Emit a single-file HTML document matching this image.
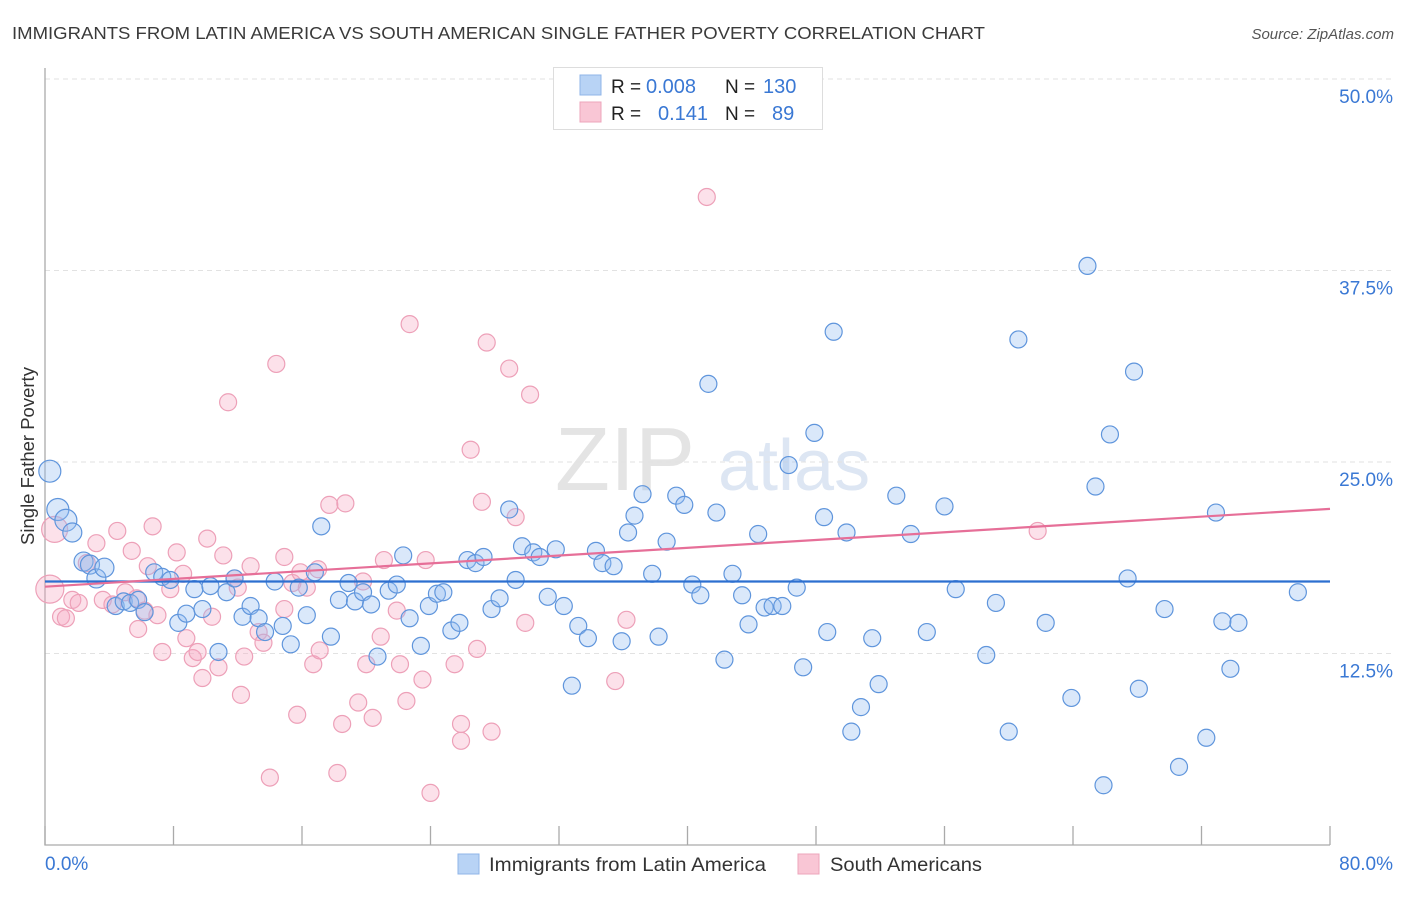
<!DOCTYPE html>
<html><head><meta charset="utf-8"><style>
body{margin:0;background:#fff;font-family:"Liberation Sans",sans-serif}
svg text{font-family:"Liberation Sans",sans-serif}
</style></head><body>
<svg id="chart" width="1406" height="892" xmlns="http://www.w3.org/2000/svg">
<text x="12" y="39" font-size="17.5" fill="#3a3a3a" textLength="973" lengthAdjust="spacingAndGlyphs">IMMIGRANTS FROM LATIN AMERICA VS SOUTH AMERICAN SINGLE FATHER POVERTY CORRELATION CHART</text>
<text x="1394" y="39" font-size="15" fill="#555" font-style="italic" text-anchor="end">Source: ZipAtlas.com</text>
<text x="555" y="490" font-size="90" fill="#e4e4e4" font-family="Liberation Serif">ZIP</text>
<text x="718" y="490" font-size="72" fill="#dde6f3">atlas</text>
<g id="grid"></g><g id="axes"></g><g id="pink"></g><g id="blue"></g><g id="lines"></g>
<text transform="translate(34,456) rotate(-90)" font-size="18.5" fill="#333" text-anchor="middle">Single Father Poverty</text>
<g>
<rect x="553.5" y="67.5" width="269" height="62" fill="#fff" stroke="#ddd"/>
<rect x="580" y="75" width="21" height="20" fill="#b8d3f5" stroke="#8fb4e8"/>
<rect x="580" y="102" width="21" height="20" fill="#f9c6d5" stroke="#eda5bb"/>
<text x="611" y="93" font-size="19" fill="#222">R =</text>
<text x="646" y="93" font-size="20" fill="#3a78d4">0.008</text>
<text x="725" y="93" font-size="19" fill="#222">N =</text>
<text x="763" y="93" font-size="20" fill="#3a78d4">130</text>
<text x="611" y="120" font-size="19" fill="#222">R =</text>
<text x="658" y="120" font-size="20" fill="#3a78d4">0.141</text>
<text x="725" y="120" font-size="19" fill="#222">N =</text>
<text x="772" y="120" font-size="20" fill="#3a78d4">89</text>
</g>
<g>
<rect x="458" y="854" width="21" height="20" fill="#b8d3f5" stroke="#8fb4e8"/>
<text x="489" y="871" font-size="19.5" fill="#333" textLength="277" lengthAdjust="spacingAndGlyphs">Immigrants from Latin America</text>
<rect x="798" y="854" width="21" height="20" fill="#f9c6d5" stroke="#eda5bb"/>
<text x="830" y="871" font-size="19.5" fill="#333" textLength="152" lengthAdjust="spacingAndGlyphs">South Americans</text>
</g>
</svg>
<script>
const yTicks=[12.5,25.0,37.5,50.0];
const yTickLabels=["12.5%","25.0%","37.5%","50.0%"];
const xTicks=[0,8,16,24,32,40,48,56,64,72,80];
const blueX=[0.3,0.8,1.3,1.7,2.4,2.8,3.2,3.7,4.4,4.9,5.3,5.8,6.2,6.8,7.3,7.8,8.3,8.8,9.3,9.8,10.3,10.8,11.3,11.8,12.3,12.8,13.3,13.7,14.3,14.8,15.3,15.8,16.3,16.8,17.2,17.8,18.3,18.9,19.3,19.8,20.3,20.7,21.4,21.9,22.3,22.7,23.4,23.9,24.4,24.8,25.3,25.8,26.3,26.8,27.3,27.8,28.3,28.9,29.3,29.7,30.4,30.8,31.3,31.8,32.3,32.8,33.2,33.8,34.3,34.7,35.4,35.9,36.3,36.7,37.2,37.8,38.2,38.7,39.3,39.8,40.3,40.8,41.3,41.8,42.3,42.8,43.4,43.8,44.4,44.8,45.3,45.9,46.3,46.8,47.2,47.9,48.5,48.7,49.1,49.9,50.2,50.8,51.5,51.9,53.0,53.9,54.9,56.0,56.7,58.6,59.2,60.0,60.6,62.3,63.9,64.9,65.4,65.9,66.3,67.4,67.8,68.1,69.7,70.6,72.3,72.9,73.3,73.8,74.3,78.0];
const blueY=[24.4,21.9,21.2,20.4,18.5,18.3,17.4,18.1,15.6,15.9,15.8,16.0,15.2,17.8,17.5,17.3,14.5,15.1,16.7,15.4,16.9,12.6,16.5,17.4,14.9,15.6,14.8,13.9,17.2,14.3,13.1,16.8,15.0,17.8,20.8,13.6,16.0,17.1,15.9,16.5,15.7,12.3,16.6,17.0,18.9,14.8,13.0,15.6,16.4,16.5,14.0,14.5,18.6,18.4,18.8,15.4,16.1,21.9,17.3,19.5,19.1,18.8,16.2,19.3,15.6,10.4,14.3,13.5,19.2,18.4,18.2,13.3,20.4,21.5,22.9,17.7,13.6,19.8,22.8,22.2,17.0,16.3,30.1,21.7,12.1,17.7,16.3,14.4,20.3,15.5,15.6,15.6,24.8,16.8,11.6,26.9,21.4,13.9,33.5,20.4,7.4,9.0,13.5,10.5,22.8,20.3,13.9,22.1,16.7,12.4,15.8,7.4,33.0,14.5,9.6,37.8,23.4,3.9,26.8,17.4,30.9,10.2,15.4,5.1,7.0,21.7,14.6,11.5,14.5,16.5];
const pinkX=[0.3,0.6,1.0,1.3,1.7,2.1,2.6,3.2,3.6,4.2,4.5,5.0,5.4,5.7,5.8,6.2,6.4,6.7,7.0,7.3,7.8,8.2,8.6,8.8,9.2,9.5,9.8,10.1,10.4,10.8,11.1,11.4,11.8,12.0,12.2,12.4,12.8,13.3,13.6,14.0,14.4,14.9,14.9,15.4,15.7,15.9,16.3,16.7,17.0,17.1,17.7,18.2,18.5,18.7,19.5,19.8,20.0,20.4,20.9,21.1,21.9,22.1,22.5,22.7,23.7,23.5,24.0,25.5,25.9,25.9,26.5,26.9,27.2,27.5,27.8,28.9,29.3,29.9,30.2,35.5,36.2,41.2,61.8];
const pinkY=[16.7,20.6,14.9,14.8,16.0,15.8,18.4,19.7,16.0,15.7,20.5,16.5,19.2,16.1,14.1,15.3,18.2,20.8,15.0,12.6,16.7,19.1,17.7,13.5,12.2,12.6,10.9,20.0,14.9,11.6,18.9,28.9,17.4,16.8,9.8,12.3,18.2,13.9,13.2,4.4,31.4,18.8,15.4,17.1,8.5,17.8,16.8,11.8,18.0,12.7,22.2,4.7,7.9,22.3,9.3,17.2,11.8,8.3,13.6,18.6,15.3,11.8,9.4,34.0,18.6,10.8,3.4,11.8,7.9,6.8,25.8,12.8,22.4,32.8,7.4,31.1,21.4,14.5,29.4,10.7,14.7,42.3,20.5];
const pinkSizes=[14,13];
const blueTrend=[17.2,17.2];
const pinkTrend=[16.86,21.94];
const NS="http://www.w3.org/2000/svg";
const X0=45,X1=1330,Y0=845,YTOP=79;
function xs(v){return X0+(v/80)*(X1-X0);}
function ys(v){return Y0-(v/50)*(Y0-YTOP);}
function mk(tag,attrs,parent){const e=document.createElementNS(NS,tag);for(const k in attrs)e.setAttribute(k,attrs[k]);parent.appendChild(e);return e;}
const grid=document.getElementById('grid'),axes=document.getElementById('axes');
yTicks.forEach((t,i)=>{
 const l=mk('line',{x1:X0,x2:1392,y1:ys(t),y2:ys(t),stroke:'#e2e2e2','stroke-dasharray':'5,4'},grid);
 
 
 const tx=mk('text',{x:1393,y:ys(t)+24,'font-size':19,fill:'#3a78d4','text-anchor':'end'},axes);
 tx.textContent=yTickLabels[i];
 
 
});
const ax=mk('path',{d:`M${X0} 68 V${Y0} H${X1}`,stroke:'#aaa',fill:'none','stroke-width':1.3},axes);


xTicks.forEach(t=>{
 const l=mk('line',{x1:xs(t),x2:xs(t),y1:826,y2:Y0,stroke:'#aaa','stroke-width':1.3},axes);
 
 
});
const xl0=mk('text',{x:45,y:870,'font-size':19,fill:'#3a78d4'},axes);xl0.textContent='0.0%';


const xl1=mk('text',{x:1393,y:870,'font-size':19,fill:'#3a78d4','text-anchor':'end'},axes);xl1.textContent='80.0%';


const pg=document.getElementById('pink');
pinkX.forEach((v,i)=>{
 const r=i<pinkSizes.length?pinkSizes[i]:8.5;
 const c=mk('circle',{cx:xs(v),cy:ys(pinkY[i]),r:r,fill:'rgba(245,170,195,0.35)',stroke:'#eda0b8','stroke-width':1.2},pg);
 
 
});
const bg=document.getElementById('blue');
blueX.forEach((v,i)=>{
 const r=i<3?11:(i<8?9.5:8.5);
 const c=mk('circle',{cx:xs(v),cy:ys(blueY[i]),r:r,fill:'rgba(150,190,240,0.35)',stroke:'#5f95dc','stroke-width':1.2},bg);
 
 
});
const lg=document.getElementById('lines');
const bl=mk('line',{x1:xs(0),x2:xs(80),y1:ys(blueTrend[0]),y2:ys(blueTrend[1]),stroke:'#2c6fd0','stroke-width':2.2},lg);


const pl=mk('line',{x1:xs(0),x2:xs(80),y1:ys(pinkTrend[0]),y2:ys(pinkTrend[1]),stroke:'#e66f98','stroke-width':2.2},lg);


</script>
</body></html>
